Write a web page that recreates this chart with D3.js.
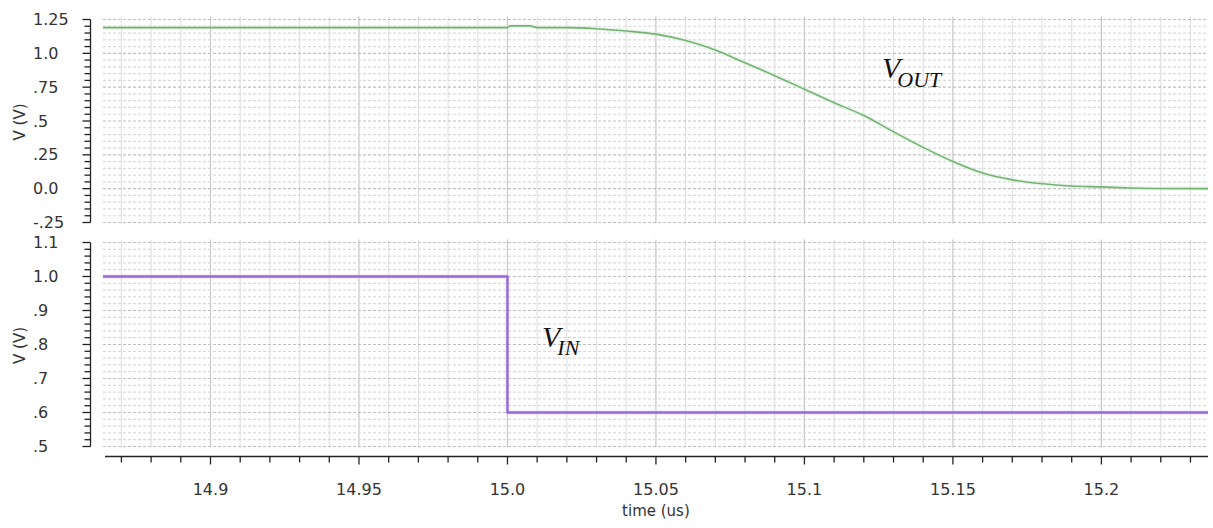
<!DOCTYPE html>
<html>
<head>
<meta charset="utf-8">
<script src="https://cdn.jsdelivr.net/npm/d3@7"></script>
<style>
  html, body { margin: 0; padding: 0; background: #fff; }
  svg { display: block; }
  .tick-label { font-family: "DejaVu Sans", sans-serif; font-size: 16px; fill: #333; }
  .sig-label { font-family: "Liberation Serif", "Times New Roman", serif; font-style: italic; fill: #111; }
</style>
</head>
<body>
<svg id="chart" width="1213" height="528"></svg>
<script>
// Transient response: output voltage (top) and input step (bottom), time in microseconds
const voutTime  = [14.8638, 15.0, 15.001, 15.0075, 15.01, 15.02, 15.03, 15.04, 15.05, 15.06, 15.07,
                   15.08, 15.09, 15.10, 15.11, 15.12, 15.13, 15.14, 15.15, 15.16, 15.17,
                   15.18, 15.19, 15.20, 15.21, 15.22, 15.2359];
const voutValue = [1.19, 1.19, 1.203, 1.203, 1.19, 1.19, 1.182, 1.165, 1.142, 1.095, 1.025,
                   0.93, 0.835, 0.735, 0.635, 0.54, 0.42, 0.305, 0.20, 0.115, 0.065,
                   0.036, 0.02, 0.013, 0.005, 0.001, 0.0];

const vinTime  = [14.8638, 15.0, 15.0, 15.2359];
const vinValue = [1.0, 1.0, 0.6, 0.6];

const timeTicks      = [14.9, 14.95, 15.0, 15.05, 15.1, 15.15, 15.2];
const timeTickLabels = ["14.9", "14.95", "15.0", "15.05", "15.1", "15.15", "15.2"];

const voutTicks      = [1.25, 1.0, 0.75, 0.5, 0.25, 0.0, -0.25];
const voutTickLabels = ["1.25", "1.0", ".75", ".5", ".25", "0.0", "-.25"];

const vinTicks      = [1.1, 1.0, 0.9, 0.8, 0.7, 0.6, 0.5];
const vinTickLabels = ["1.1", "1.0", ".9", ".8", ".7", ".6", ".5"];

const svg = d3.select("#chart");

const plotLeft = 103, plotRight = 1208;
const x = d3.scaleLinear().domain([14.8638, 15.2359]).range([plotLeft, plotRight]);

// Minor time divisions every 0.01 us
const timeMinor = d3.range(14.87, 15.2359, 0.01).map(v => +v.toFixed(3));
const isMajorTime = t => timeTicks.some(m => Math.abs(m - t) < 1e-6);

function panel(cfg) {
  const y = d3.scaleLinear().domain(cfg.domain).range([cfg.bottom, cfg.top]);
  const g = svg.append("g");
  const minorY = d3.range(0, cfg.nMinor + 1).map(i => +(cfg.domain[0] + i * cfg.minorStep).toFixed(4));
  const isMajorY = v => cfg.ticks.some(m => Math.abs(m - v) < 1e-6);

  // vertical grid
  g.append("g").selectAll("line").data(timeMinor).join("line")
    .attr("x1", d => x(d)).attr("x2", d => x(d))
    .attr("y1", cfg.top - 3).attr("y2", cfg.bottom + 1)
    .attr("stroke", d => isMajorTime(d) ? "#c6c6c6" : "#e2e2e2")
    .attr("stroke-width", 1.2);

  // horizontal grid (dotted)
  g.append("g").selectAll("line").data(minorY).join("line")
    .attr("x1", plotLeft).attr("x2", plotRight)
    .attr("y1", d => y(d)).attr("y2", d => y(d))
    .attr("stroke", d => isMajorY(d) ? "#bfbfbf" : "#d9d9d9")
    .attr("stroke-width", 1.2)
    .attr("stroke-dasharray", "3,2");

  // left axis
  const axisX = 90.5;
  g.append("line").attr("x1", axisX).attr("x2", axisX)
    .attr("y1", y(cfg.domain[1])).attr("y2", y(cfg.domain[0]))
    .attr("stroke", "#222").attr("stroke-width", 1.3);
  g.append("g").selectAll("line").data(minorY).join("line")
    .attr("x1", d => isMajorY(d) ? axisX - 8 : axisX - 6).attr("x2", axisX)
    .attr("y1", d => y(d)).attr("y2", d => y(d))
    .attr("stroke", "#222").attr("stroke-width", 1.3);

  g.append("g").selectAll("text").data(cfg.ticks).join("text")
    .attr("class", "tick-label")
    .attr("x", 33).attr("y", d => y(d))
    .attr("dominant-baseline", "central")
    .text((d, i) => cfg.labels[i]);

  g.append("text").attr("class", "tick-label")
    .attr("transform", `translate(20,${(cfg.top + cfg.bottom) / 2 + 1}) rotate(-90)`)
    .attr("text-anchor", "middle").attr("dominant-baseline", "central")
    .style("font-size", "15px")
    .text("V (V)");

  // signal trace
  const line = d3.line().x(d => x(d[0])).y(d => y(d[1])).curve(cfg.curve);
  const pts = cfg.times.map((t, i) => [t, cfg.values[i]]);
  g.append("path").datum(pts).attr("d", line)
    .attr("fill", "none").attr("stroke", cfg.halo).attr("stroke-width", cfg.width + 3)
    .attr("stroke-opacity", 0.35).attr("stroke-linejoin", "round");
  g.append("path").datum(pts).attr("d", line)
    .attr("fill", "none").attr("stroke", cfg.color).attr("stroke-width", cfg.width)
    .attr("stroke-linejoin", "round");

  return y;
}

panel({
  domain: [-0.25, 1.25], top: 19.5, bottom: 222.5, minorStep: 0.05, nMinor: 30,
  ticks: voutTicks, labels: voutTickLabels,
  times: voutTime, values: voutValue, curve: d3.curveMonotoneX,
  color: "#74b274", halo: "#cfe8cf", width: 1.6
});

panel({
  domain: [0.5, 1.1], top: 242.5, bottom: 446.5, minorStep: 0.02, nMinor: 30,
  ticks: vinTicks, labels: vinTickLabels,
  times: vinTime, values: vinValue, curve: d3.curveLinear,
  color: "#9468d8", halo: "#e8d4f4", width: 2.4
});

// bottom time axis
const axisY = 456.5;
svg.append("line").attr("x1", plotLeft + 2).attr("x2", plotRight)
  .attr("y1", axisY).attr("y2", axisY).attr("stroke", "#222").attr("stroke-width", 1.3);
svg.append("g").selectAll("line").data(timeMinor).join("line")
  .attr("x1", d => x(d)).attr("x2", d => x(d))
  .attr("y1", axisY).attr("y2", d => isMajorTime(d) ? axisY + 8 : axisY + 6)
  .attr("stroke", "#222").attr("stroke-width", 1.3);
svg.append("g").selectAll("text").data(timeTicks).join("text")
  .attr("class", "tick-label")
  .attr("x", d => x(d)).attr("y", 489)
  .attr("text-anchor", "middle").attr("dominant-baseline", "central")
  .text((d, i) => timeTickLabels[i]);
svg.append("text").attr("class", "tick-label")
  .attr("x", x(15.05)).attr("y", 511)
  .attr("text-anchor", "middle").attr("dominant-baseline", "central")
  .style("font-size", "15px")
  .text("time (us)");

// signal names
function sigLabel(px, py, main, sub) {
  const t = svg.append("text").attr("class", "sig-label").attr("x", px).attr("y", py);
  t.append("tspan").style("font-size", "30px").text(main);
  t.append("tspan").style("font-size", "22px").attr("dx", -3).attr("dy", 8.4).text(sub);
}
sigLabel(882, 78.3, "V", "OUT");
sigLabel(542, 346.7, "V", "IN");
</script>
</body>
</html>
